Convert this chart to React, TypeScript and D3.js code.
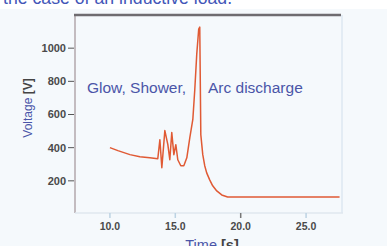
import { line, scaleLinear, curveLinear } from 'd3';

const timeValues = [
  10, 10.61, 11.53, 12.29, 13.05, 13.66, 13.82, 13.97, 14.2, 14.43, 14.58, 14.73, 14.89,
  15.04, 15.19, 15.42, 15.65, 15.88, 16.11, 16.34, 16.49, 16.64, 16.79, 16.87, 16.95,
  17.1, 17.25, 17.4, 17.63, 17.86, 18.17, 18.55, 19.0, 27.56
];
const voltageValues = [
  400, 382, 358, 345, 339, 333, 448, 279, 503, 418, 327, 491, 358,
  418, 327, 291, 291, 339, 461, 570, 751, 964, 1115, 1127, 479,
  358, 291, 248, 206, 170, 139, 115, 103, 103
];
const yTicks = [200, 400, 600, 800, 1000];
const xTicks = [10, 15, 20, 25];
const xTickLabels = ['10.0', '15.0', '20.0', '25.0'];

const W = 387;
const H = 246;

function App(): JSX.Element {
  const left = 75;
  const right = 341;
  const top = 15;
  const bottom = 213;

  const x = scaleLinear().domain([7.33, 27.67]).range([left, right]);
  const y = scaleLinear().domain([0, 1200]).range([bottom + 1, top]);

  const pts = timeValues.map((t, i) => ({ t, v: voltageValues[i] }));
  const lineGen = line<{ t: number; v: number }>()
    .x((d) => x(d.t))
    .y((d) => y(d.v))
    .curve(curveLinear);

  return (
    <svg
      width={W}
      height={H}
      style={{ position: 'absolute', left: 0, top: 0 }}
      fontFamily="'Liberation Sans', Arial, sans-serif"
    >
      <rect x={0} y={0} width={W} height={H} fill="#ffffff" />
      <rect x={0} y={9} width={W} height={H - 9} fill="#f5f9fc" />

      {/* cut off slide text */}
      <text x={3} y={4} fontSize={17.7} fill="#4256b8">
        the case of an inductive load.
      </text>

      {/* frame */}
      <line x1={left} x2={left} y1={top} y2={bottom} stroke="#c3bcc0" strokeWidth={2} />
      <line x1={right + 1} x2={right + 1} y1={top} y2={bottom} stroke="#e3ecf4" strokeWidth={2} />
      <line x1={left} x2={right + 2} y1={bottom} y2={bottom} stroke="#dfe7ef" strokeWidth={1.5} />
      <line x1={left - 1} x2={right} y1={top} y2={top} stroke="#6f6c70" strokeWidth={2.5} />

      {/* y axis */}
      {yTicks.map((t) => (
        <g key={t}>
          <line x1={left - 7} x2={left - 1} y1={y(t)} y2={y(t)} stroke="#555" strokeWidth={1} />
          <text
            x={left - 9}
            y={y(t)}
            dy="0.35em"
            textAnchor="end"
            fontSize={11}
            fontWeight="bold"
            fill="#4a4a4a"
          >
            {t}
          </text>
        </g>
      ))}

      {/* x axis */}
      {xTicks.map((t, i) => (
        <g key={t}>
          <line
            x1={x(t)}
            x2={x(t)}
            y1={bottom}
            y2={bottom + 5}
            stroke={i === 2 ? '#777' : '#bcd3e3'}
            strokeWidth={1.5}
          />
          <text x={x(t)} y={230} textAnchor="middle" fontSize={10.5} fontWeight="bold" fill="#4a4a4a">
            {xTickLabels[i]}
          </text>
        </g>
      ))}

      <text
        transform={`translate(32,108) rotate(-90)`}
        textAnchor="middle"
        fontSize={12}
        fill="#4a55a8"
      >
        Voltage<tspan fill="#444" fontWeight="bold"> [V]</tspan>
      </text>
      <text x={212} y={250} textAnchor="middle" fontSize={14.5} fill="#4a55a8">
        Time<tspan fill="#444" fontWeight="bold"> [s]</tspan>
      </text>

      {/* curve */}
      <path
        d={lineGen(pts) ?? ''}
        fill="none"
        stroke="#e05a34"
        strokeWidth={1.5}
        strokeLinejoin="round"
      />

      {/* annotations */}
      <text x={87} y={93} fontSize={15.5} fill="#4a55a8">
        Glow, Shower,
      </text>
      <text x={208} y={93} fontSize={15.5} fill="#4a55a8">
        Arc discharge
      </text>
    </svg>
  );
}

export default App;
